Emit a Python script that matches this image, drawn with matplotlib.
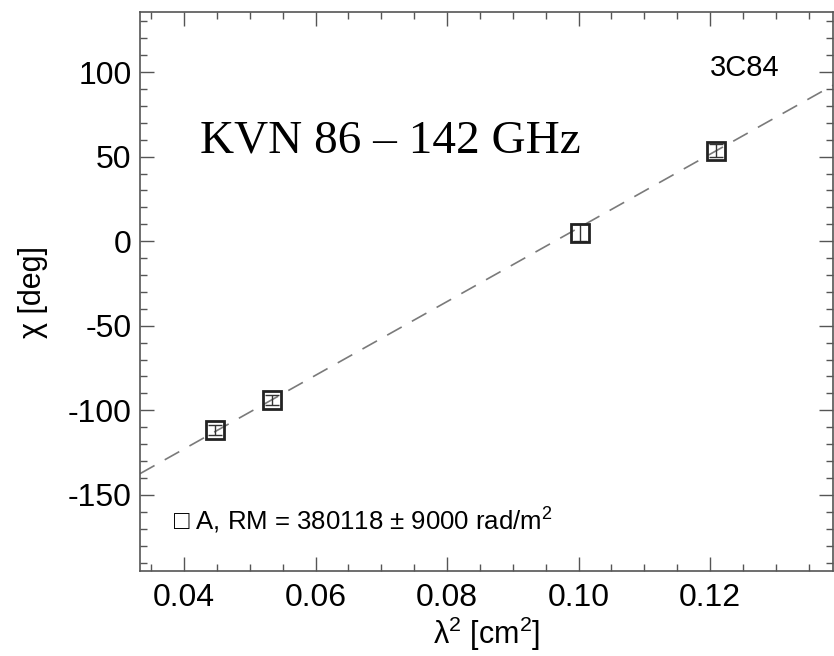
import matplotlib
matplotlib.use('Agg')
import matplotlib.pyplot as plt
import numpy as np
from matplotlib.ticker import MultipleLocator

# measured polarization angles vs wavelength squared
lam2 = [0.0447, 0.0534, 0.1002, 0.1209]      # cm^2
chi = [-111.5, -94.0, 5.0, 53.5]             # deg
chi_err = [3.0, 3.0, 5.0, 4.0]               # deg

# linear fit chi = chi0 + slope * lambda^2
fit_chi0 = -210.0     # deg
fit_slope = 2178.6    # deg / cm^2
fit_x = [0.0333, 0.1387]

source = '3C84'
band_label = 'KVN 86 \u2013 142 GHz'
legend_label = '\u25a1 A, RM = 380118 \u00b1 9000 rad/m$^2$'

plt.rcParams['font.family'] = ['Liberation Sans', 'DejaVu Sans']
plt.rcParams['mathtext.fontset'] = 'custom'
plt.rcParams['mathtext.rm'] = 'Liberation Sans'
plt.rcParams['axes.unicode_minus'] = False

fig = plt.figure(figsize=(8.34, 6.56), dpi=100)
ax = fig.add_axes([140 / 834, 85 / 656, 693 / 834, 559 / 656])

# fit line
fx = np.array(fit_x)
ax.plot(fx, fit_chi0 + fit_slope * fx, color='#7a7a7a', lw=1.2,
        dashes=(10, 7))

# data points: open squares with error bars
ax.errorbar(lam2, chi, yerr=chi_err, fmt='none', ecolor='#333333',
            elinewidth=1.0, capsize=5, capthick=1.0)
ax.plot(lam2, chi, 's', ms=13.5, mfc='none', mec='#222222', mew=2.0)

ax.set_xlim(0.0333, 0.1387)
ax.set_ylim(-195, 135.5)

ax.xaxis.set_major_locator(MultipleLocator(0.02))
ax.xaxis.set_minor_locator(MultipleLocator(0.005))
ax.yaxis.set_major_locator(MultipleLocator(50))
ax.yaxis.set_minor_locator(MultipleLocator(10))
ax.set_xticks([0.04, 0.06, 0.08, 0.10, 0.12])
ax.set_xticklabels(['0.04', '0.06', '0.08', '0.10', '0.12'])

ax.tick_params(which='both', direction='in', top=True, right=True,
               color='#555555', width=1.0, labelsize=23)
ax.tick_params(which='major', length=10)
ax.tick_params(which='minor', length=5)
ax.tick_params(axis='x', pad=9)
ax.tick_params(axis='y', pad=6)
for sp in ax.spines.values():
    sp.set_color('#555555')
    sp.set_linewidth(1.2)

ax.set_xlabel('\u03bb$^2$ [cm$^2$]', fontsize=22, labelpad=1)
ax.set_ylabel('\u03c7 [deg]', fontsize=22, labelpad=14)

ax.text(0.1200, 97.5, source, fontsize=21, va='baseline', ha='left')
ax.text(0.0424, 52.4, band_label, fontsize=34, va='baseline', ha='left',
        family='Liberation Serif')
ax.text(0.0383, -170.4, legend_label, fontsize=18.5, va='baseline', ha='left')

fig.savefig('out.png', dpi=100)
